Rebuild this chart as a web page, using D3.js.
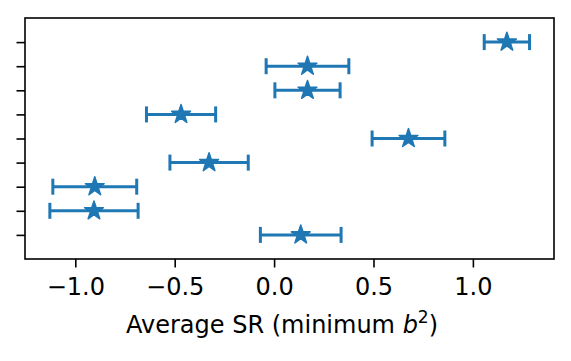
<!DOCTYPE html>
<html>
<head>
<meta charset="utf-8">
<script src="https://d3js.org/d3.v7.min.js"></script>
<style>
  body { margin: 0; background: #fff; }
  text { font-family: "DejaVu Sans", sans-serif; }
</style>
</head>
<body>
<svg id="chart" width="571" height="361"></svg>
<script>
// rows from bottom (0) to top (8)
const rows = [0, 1, 2, 3, 4, 5, 6, 7, 8];
const means = [0.134, -0.906, -0.902, -0.327, 0.676, -0.468, 0.168, 0.168, 1.171];
const errs = [0.203, 0.222, 0.211, 0.197, 0.183, 0.174, 0.164, 0.208, 0.114];
const xTicks = [-1.0, -0.5, 0.0, 0.5, 1.0];

const svg = d3.select("svg#chart");
const margin = { top: 18, right: 17, bottom: 102, left: 25 };
const width = +svg.attr("width") - margin.left - margin.right;
const height = +svg.attr("height") - margin.top - margin.bottom;
const color = "#1f77b4";

const g = svg.append("g")
    .attr("transform", "translate(" + margin.left + "," + margin.top + ")");

const x = d3.scaleLinear().domain([-1.253, 1.408]).range([0, width]);
const y = d3.scaleLinear().domain([-1, 9]).range([height, 0]);

// x axis
const xAxis = g.append("g")
    .attr("transform", "translate(0," + height + ")")
    .call(d3.axisBottom(x).tickValues(xTicks).tickSize(8.5).tickPadding(10.5)
        .tickFormat(d => d3.format(".1f")(d).replace("-", "\u2212")));
xAxis.select(".domain").remove();
xAxis.selectAll("line").attr("stroke", "#000").attr("stroke-width", 1.6);
xAxis.selectAll("text").attr("font-size", 24).attr("fill", "#000")
    .attr("font-family", "DejaVu Sans");

// y axis, ticks only
const yAxis = g.append("g")
    .call(d3.axisLeft(y).tickValues(rows).tickSize(8.5).tickFormat(""));
yAxis.select(".domain").remove();
yAxis.selectAll("line").attr("stroke", "#000").attr("stroke-width", 1.6);

// error bars
const bars = g.selectAll("g.bar").data(rows).join("g").attr("class", "bar");
bars.append("line")
    .attr("x1", d => x(means[d] - errs[d]))
    .attr("x2", d => x(means[d] + errs[d]))
    .attr("y1", d => y(d)).attr("y2", d => y(d))
    .attr("stroke", color).attr("stroke-width", 3);
[-1, 1].forEach(s => {
  bars.append("line")
      .attr("x1", d => x(means[d] + s * errs[d]))
      .attr("x2", d => x(means[d] + s * errs[d]))
      .attr("y1", d => y(d) - 8).attr("y2", d => y(d) + 8)
      .attr("stroke", color).attr("stroke-width", 3);
});
bars.append("path")
    .attr("d", d3.symbol().type(d3.symbolStar).size(110))
    .attr("transform", d => "translate(" + x(means[d]) + "," + y(d) + ")")
    .attr("fill", color).attr("stroke", color).attr("stroke-width", 1.5)
    .attr("stroke-linejoin", "round");

// frame
g.append("rect")
    .attr("width", width).attr("height", height)
    .attr("fill", "none").attr("stroke", "#000").attr("stroke-width", 1.6);

// x label
const label = g.append("text")
    .attr("x", x(0.04)).attr("y", height + 74)
    .attr("text-anchor", "middle").attr("font-size", 24).attr("fill", "#000");
label.append("tspan").text("Average SR (minimum ");
label.append("tspan").attr("font-style", "italic").text("b");
label.append("tspan").attr("font-size", 17).attr("dy", -10).text("2");
label.append("tspan").attr("dy", 10).text(")");
</script>
</body>
</html>
